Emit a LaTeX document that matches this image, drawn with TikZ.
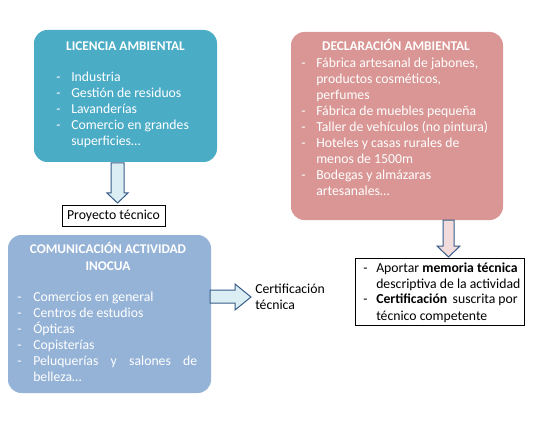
\documentclass[tikz,border=0pt]{standalone}
\usepackage{fontspec}
\setmainfont{Carlito}
\usepackage{array}
\definecolor{licC}{HTML}{4BACC6}
\definecolor{decC}{HTML}{D99694}
\definecolor{comC}{HTML}{95B3D7}
\definecolor{arrBlue}{HTML}{DBEEF4}
\definecolor{arrPink}{HTML}{F2DCDB}
\definecolor{arrLine}{HTML}{385D8A}
\tikzset{
  colorbox/.style={fill=#1, draw=none, rounded corners=10pt},
  whitebox/.style={fill=white, draw=black, line width=0.75pt},
  boxtitle/.style={text=white, font=\fontsize{10}{12.5}\selectfont\bfseries, inner sep=0pt, align=center},
  itemlist/.style={text=white, font=\fontsize{10.3}{12}\selectfont, inner sep=0pt, anchor=base west},
  blacklist/.style={text=black, font=\fontsize{10.3}{12}\selectfont, inner sep=0pt, anchor=base west},
  blockarrow/.style={fill=#1, draw=arrLine, line width=0.75pt, line join=miter},
}
\begin{document}
\begin{tikzpicture}[x=0.75pt,y=-0.75pt]
\useasboundingbox[fill=white] (0,0) rectangle (546,424);

% Licencia ambiental
\path[colorbox=licC] (34,30) rectangle (217,162);
\node[boxtitle, anchor=base] (licT) at (125.5,51) {LICENCIA AMBIENTAL};
\node[itemlist] (licL) at (56,82) {\begin{tabular}[t]{@{}p{11.25pt}@{}l@{}}
-&Industria\\
-&Gestión de residuos\\
-&Lavanderías\\
-&Comercio en grandes\\
&superficies…
\end{tabular}};

% Declaración ambiental
\path[colorbox=decC] (291,32) rectangle (503,220);
\node[boxtitle, anchor=base] (decT) at (396,51) {DECLARACIÓN AMBIENTAL};
\node[itemlist] (decL) at (301,68) {\begin{tabular}[t]{@{}p{11.25pt}@{}l@{}}
-&Fábrica artesanal de jabones,\\
&productos cosméticos,\\
&perfumes\\
-&Fábrica de muebles pequeña\\
-&Taller de vehículos (no pintura)\\
-&Hoteles y casas rurales de\\
&menos de 1500m\\
-&Bodegas y almázaras\\
&artesanales…
\end{tabular}};

% Comunicación actividad inocua
\path[colorbox=comC] (8,235) rectangle (211,393);
\node[boxtitle, anchor=base] (comT) at (108,270) {COMUNICACIÓN ACTIVIDAD\\INOCUA};
\node[itemlist] (comL) at (17,301) {\begin{tabular}[t]{@{}p{12pt}@{}l@{}}
-&Comercios en general\\
-&Centros de estudios\\
-&Ópticas\\
-&Copisterías\\
-&\makebox[123pt][s]{Peluquerías\hfill y\hfill salones\hfill de}\\
&belleza…
\end{tabular}};

% Proyecto técnico
\node[whitebox, minimum width=77.25pt, minimum height=15.75pt, inner sep=0pt,
      font=\fontsize{10.3}{12}\selectfont] (proy) at (113.5,215.5) {Proyecto técnico};

% Certificación técnica
\node[blacklist] (cert) at (255,293) {\begin{tabular}[t]{@{}l@{}}Certificación\\técnica\end{tabular}};

% Memoria técnica box
\path[whitebox] (355,258) rectangle (524,325);
\node[blacklist] (memL) at (363,272) {\begin{tabular}[t]{@{}p{9.75pt}@{}l@{}}
-&Aportar \textbf{memoria técnica}\\
&descriptiva de la actividad\\
-&\textbf{Certificación}\, suscrita por\\
&técnico competente
\end{tabular}};

% Block arrows
\draw[blockarrow=arrBlue] (111,163) -- (124,163) -- (124,193) -- (128,193) -- (117.5,203)
  -- (107,193) -- (111,193) -- cycle;
\draw[blockarrow=arrPink] (443,220) -- (454,220) -- (454,246) -- (460,246) -- (448.5,257)
  -- (437,246) -- (443,246) -- cycle;
\draw[blockarrow=arrBlue] (210,290) -- (235,290) -- (235,284) -- (251,297) -- (235,310)
  -- (235,303) -- (210,303) -- cycle;
\end{tikzpicture}
\end{document}
